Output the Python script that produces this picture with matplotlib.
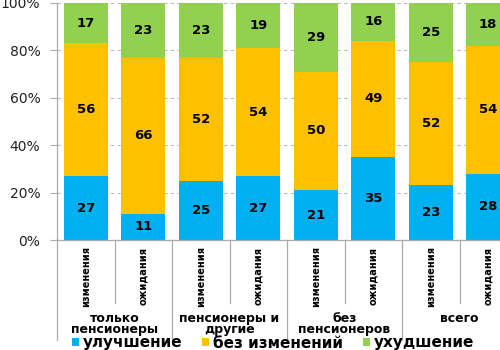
import matplotlib
matplotlib.use("Agg")
import matplotlib.pyplot as plt
import matplotlib.transforms as mtransforms
from matplotlib.patches import Patch
import numpy as np

sub_labels = ["изменения", "ожидания"] * 4
group_labels = ["только\nпенсионеры", "пенсионеры и\nдругие", "без\nпенсионеров", "всего"]
better = [27, 11, 25, 27, 21, 35, 23, 28]
same = [56, 66, 52, 54, 50, 49, 52, 54]
worse = [17, 23, 23, 19, 29, 16, 25, 18]
series_names = ["улучшение", "без изменений", "ухудшение"]
colors = ["#00B0F0", "#FFC000", "#92D050"]

fig = plt.figure(figsize=(5, 3.5), dpi=100)
ax = fig.add_axes([57 / 500, 110 / 350, 460 / 500, 237 / 350])

x = np.arange(len(better))
b = np.array(better)
s = np.array(same)
w = np.array(worse)
width = 0.77
ax.bar(x, b, width, color=colors[0], zorder=2)
ax.bar(x, s, width, bottom=b, color=colors[1], zorder=2)
ax.bar(x, w, width, bottom=b + s, color=colors[2], zorder=2)

for vals, bottoms in [(b, np.zeros_like(b)), (s, b), (w, b + s)]:
    for xi, v, bt in zip(x, vals, bottoms):
        ax.text(xi, bt + v / 2, str(v), ha="center", va="center",
                fontsize=9.5, fontweight="bold", color="black", zorder=3)

ax.set_xlim(-0.5, len(x) - 0.5)
ax.set_ylim(0, 100)
ax.set_yticks(np.arange(0, 101, 20))
ax.set_yticklabels([f"{v}%" for v in range(0, 101, 20)], fontsize=10)
ax.yaxis.grid(True, linestyle=(0, (3, 3)), color="#BBBBBB", linewidth=0.8, zorder=0)
ax.set_xticks([])
for sp in ["top", "right"]:
    ax.spines[sp].set_visible(False)
for sp in ["left", "bottom"]:
    ax.spines[sp].set_color("#AAAAAA")
    ax.spines[sp].set_linewidth(0.9)
ax.tick_params(axis="y", length=5, color="#AAAAAA", pad=7, labelcolor="#222222")

trans = mtransforms.blended_transform_factory(ax.transData, ax.transAxes)
for i in range(len(x) + 1):
    xs = i - 0.5
    low = -0.42 if i % 2 == 0 else -0.267
    ax.plot([xs, xs], [0, low], transform=trans, clip_on=False,
            color="#AAAAAA", lw=0.9)

for xi, lab in zip(x, sub_labels):
    ax.text(xi, -0.153, lab, transform=trans, rotation=90, ha="center",
            va="center", fontsize=7.8, family="DejaVu Sans", stretch="condensed",
            fontweight="bold", color="black")

for gi, lab in enumerate(group_labels):
    ax.text(2 * gi + 0.5, -0.305, lab, transform=trans, ha="center", va="top",
            fontsize=9, fontweight="bold", linespacing=0.8, color="black")

handles = [Patch(facecolor=c, edgecolor="none") for c in colors]
fig.legend(handles, series_names, loc="center",
           bbox_to_anchor=(0.546, 0.02), ncol=3, frameon=False,
           handlelength=0.45, handleheight=0.35, handletextpad=0.25,
           columnspacing=1.3, borderpad=0.0,
           prop={"weight": "bold", "size": 11})

fig.savefig("out.png", dpi=100)
